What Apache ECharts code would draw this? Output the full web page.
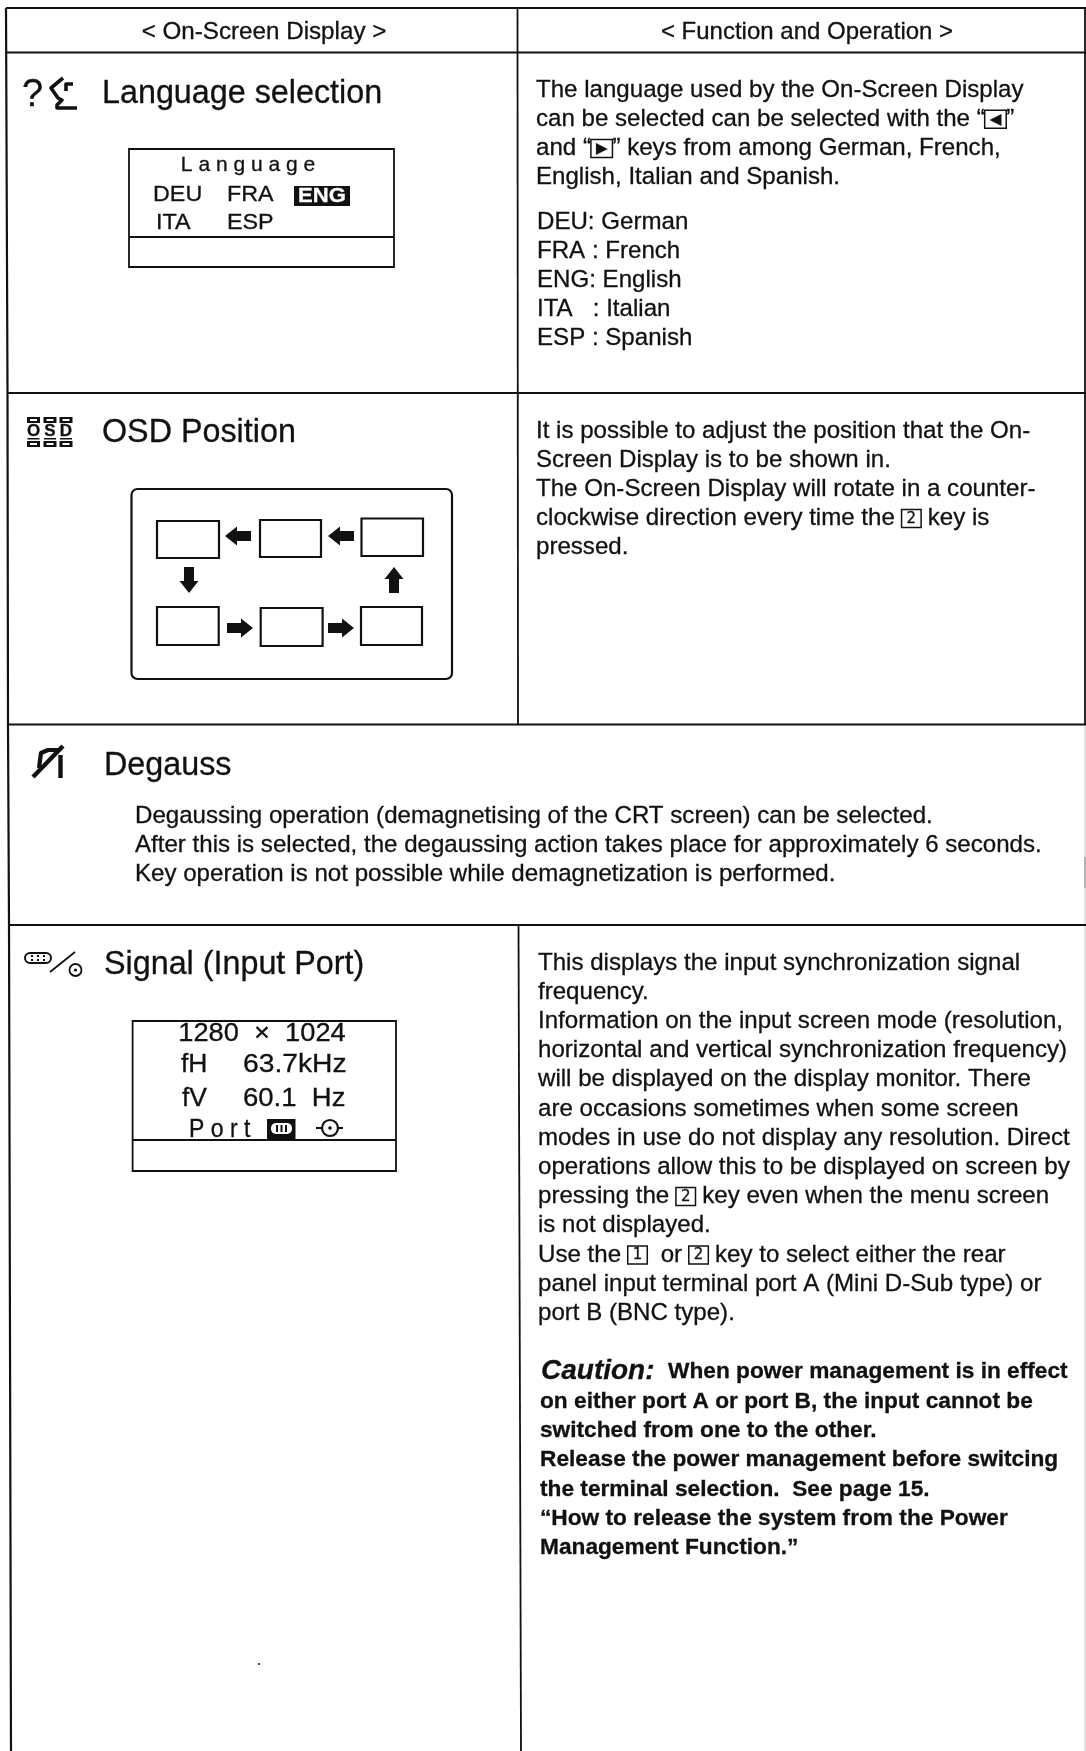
<!DOCTYPE html>
<html>
<head>
<meta charset="utf-8">
<title>On-Screen Display</title>
<style>
  html, body { margin: 0; padding: 0; background: #fff; }
  #main { width: 1086px; height: 1751px; }
</style>
<script src="https://cdn.jsdelivr.net/npm/echarts@6/dist/echarts.min.js"></script>
</head>
<body>
<div id="main"></div>
<script>
const columnHeaders = ['< On-Screen Display >', '< Function and Operation >']
const sectionTitles = ['Language selection', 'OSD Position', 'Degauss', 'Signal (Input Port)']
const languageIntro = [
  'The language used by the On-Screen Display',
  'can be selected can be selected with the “{key|◀}”',
  'and “{key|▶}” keys from among German, French,',
  'English, Italian and Spanish.'
]
const languageCodes = ['DEU: German', 'FRA : French', 'ENG: English', 'ITA   : Italian', 'ESP : Spanish']
const osdText = [
  'It is possible to adjust the position that the On-',
  'Screen Display is to be shown in.',
  'The On-Screen Display will rotate in a counter-',
  'clockwise direction every time the {key|2} key is',
  'pressed.'
]
const degaussText = [
  'Degaussing operation (demagnetising of the CRT screen) can be selected.',
  'After this is selected, the degaussing action takes place for approximately 6 seconds.',
  'Key operation is not possible while demagnetization is performed.'
]
const signalText = [
  'This displays the input synchronization signal',
  'frequency.',
  'Information on the input screen mode (resolution,',
  'horizontal and vertical synchronization frequency)',
  'will be displayed on the display monitor. There',
  'are occasions sometimes when some screen',
  'modes in use do not display any resolution. Direct',
  'operations allow this to be displayed on screen by',
  'pressing the {key|2} key even when the menu screen',
  'is not displayed.',
  'Use the {key|1}  or {key|2} key to select either the rear',
  'panel input terminal port A (Mini D-Sub type) or',
  'port B (BNC type).'
]
const cautionWord = 'Caution:'
const cautionText = [
  'When power management is in effect',
  'on either port A or port B, the input cannot be',
  'switched from one to the other.',
  'Release the power management before switcing',
  'the terminal selection.  See page 15.',
  '“How to release the system from the Power',
  'Management Function.”'
]
const languageMenuTitle = 'L a n g u a g e'
const languageMenuCodes = ['DEU', 'FRA', 'ENG', 'ITA', 'ESP']
const signalMenu = ['1280  ×  1024', 'fH', '63.7kHz', 'fV', '60.1  Hz', 'P o r t']
const osdLetters = ['O', 'S', 'D']

const INK = '#111'
const FONT = '"Liberation Sans", Arial, sans-serif'
const BODY_LINE = 29.2
const BODY_SIZE = 24.1

const graphics = []

function text(x, y, str, o) {
  o = o || {}
  graphics.push({
    type: 'text',
    x: x,
    y: y,
    scaleX: o.sx || 1,
    z: o.z || 7,
    style: {
      x: 0,
      y: 0,
      text: str,
      fontFamily: FONT,
      fontSize: o.size || BODY_SIZE,
      fontWeight: o.weight || 'normal',
      fontStyle: o.style || 'normal',
      fill: o.color || INK,
      stroke: o.color || INK,
      lineWidth: 0.3,
      align: o.align || 'left',
      verticalAlign: 'middle',
      rich: {
        key: {
          fontFamily: '"DejaVu Sans", sans-serif',
          fontSize: 15,
          fill: INK,
          borderColor: INK,
          borderWidth: 1.5,
          padding: [2, 5, 1, 5],
          verticalAlign: 'middle'
        }
      }
    }
  })
}

function line(points, width, color) {
  graphics.push({
    type: 'polyline',
    z: 3,
    shape: { points: points },
    style: { stroke: color || INK, lineWidth: width || 1.8, fill: null, lineJoin: 'round' }
  })
}

function box(x0, y0, x1, y1, width, r) {
  graphics.push({
    type: 'rect',
    z: 3,
    shape: { x: x0, y: y0, width: x1 - x0, height: y1 - y0, r: r || 0 },
    style: { stroke: INK, lineWidth: width || 1.8, fill: null }
  })
}

function solid(x0, y0, x1, y1, color, z, r) {
  graphics.push({
    type: 'rect',
    z: z || 4,
    shape: { x: x0, y: y0, width: x1 - x0, height: y1 - y0, r: r || 0 },
    style: { fill: color || INK }
  })
}

function blockArrow(cx, cy, dir) {
  const pts = [[-13, -5], [1, -5], [1, -9.5], [13, 0], [1, 9.5], [1, 5], [-13, 5]]
  const rot = { right: [1, 0], left: [-1, 0], down: [0, 1], up: [0, -1] }[dir]
  graphics.push({
    type: 'polygon',
    z: 4,
    shape: { points: pts.map(p => [cx + p[0] * rot[0] - p[1] * rot[1], cy + p[0] * rot[1] + p[1] * rot[0]]) },
    style: { fill: INK }
  })
}

function circle(cx, cy, r, width, fill) {
  graphics.push({
    type: 'circle',
    z: 4,
    shape: { cx: cx, cy: cy, r: r },
    style: width ? { stroke: INK, lineWidth: width, fill: '#fff' } : { fill: fill || INK }
  })
}

function paragraph(x, y, lines, o) {
  lines.forEach((s, i) => text(x, y + i * BODY_LINE, s, o))
}

// frame
line([[6, 8], [1086, 8]], 2)
line([[6, 8], [7.5, 393], [8, 725], [9, 925], [11, 1751]], 2.2)
line([[517.5, 8], [518, 725]], 1.8)
line([[518.5, 925], [521, 1751]], 1.8)
line([[1085, 8], [1085, 725]], 1.8)
line([[1085, 857], [1085, 888]], 1.5)
line([[1085, 725], [1085, 1751]], 1.5, '#d8d8d8')
line([[6, 52.5], [1086, 52.5]], 2)
line([[7, 393], [1086, 393]], 2)
line([[8, 724.5], [1086, 724.5]], 2)
line([[9, 925], [1086, 925]], 2)

// column headers
text(264, 32, columnHeaders[0], { size: 24.2, align: 'center' })
text(807, 32, columnHeaders[1], { size: 24, align: 'center' })

// section titles
text(102, 94, sectionTitles[0], { size: 32.3 })
text(102, 433, sectionTitles[1], { size: 32.3 })
text(104, 766, sectionTitles[2], { size: 32.3 })
text(104, 965, sectionTitles[3], { size: 32.3 })

// right column text
paragraph(536, 90, languageIntro)
paragraph(537, 222, languageCodes)
paragraph(536, 431, osdText)
paragraph(135, 816, degaussText)
paragraph(538, 963, signalText)
text(541, 1371, cautionWord, { size: 28, weight: 'bold', style: 'italic' })
text(668, 1372, cautionText[0], { size: 22.7, weight: 'bold' })
cautionText.slice(1).forEach((s, i) => text(540, 1402 + i * 29.1, s, { size: 22.7, weight: 'bold' }))

// language icon
text(22, 96, '?', { size: 38 })
line([[63, 78], [51, 88], [58, 98], [62, 100], [57, 105], [57, 108], [77, 108]], 3.6)
line([[73, 84], [66, 84], [66, 91]], 3.6)

// language menu
box(129, 149, 394, 267, 1.8)
line([[129, 237], [394, 237]], 1.8)
text(248, 165, languageMenuTitle, { size: 21, align: 'center' })
text(153, 195, languageMenuCodes[0], { size: 22, sx: 1.06 })
text(227, 195, languageMenuCodes[1], { size: 22, sx: 1.06 })
solid(294, 186, 350, 206)
text(322, 196, languageMenuCodes[2], { size: 21, color: '#fff', align: 'center', weight: 'bold', sx: 1.05 })
text(156, 223, languageMenuCodes[3], { size: 22, sx: 1.06 })
text(227, 223, languageMenuCodes[4], { size: 22, sx: 1.06 })

// OSD icon
;[33.5, 50, 66].forEach((cx, i) => {
  solid(cx - 6.5, 417, cx + 6.5, 423)
  solid(cx - 3.5, 419, cx + 3.5, 421, '#fff', 5)
  text(cx, 431.5, osdLetters[i], { size: 17, weight: 'bold', align: 'center' })
  solid(cx - 6, 438, cx + 6, 439.5)
  solid(cx - 6.5, 441, cx + 6.5, 447)
  solid(cx - 3.5, 443, cx + 3.5, 445, '#fff', 5)
})

// OSD position panel
box(131.5, 489, 452, 679, 2.2, 6)
box(157, 521, 219, 558, 2.2)
box(260, 520, 321, 557, 2.2)
box(361.5, 518.5, 423, 556, 2.2)
box(157, 607, 218.7, 645, 2.2)
box(260.7, 608, 322.6, 646, 2.2)
box(361, 607, 422, 645, 2.2)
blockArrow(238, 536, 'left')
blockArrow(341, 536, 'left')
blockArrow(189, 580, 'down')
blockArrow(394, 580, 'up')
blockArrow(240, 628, 'right')
blockArrow(341, 628, 'right')

// degauss icon
line([[33, 777], [63, 746]], 4.4)
line([[60.5, 755], [60.5, 778]], 4.4)
line([[39, 768], [41, 753], [48, 750], [60, 750]], 4.2)

// signal icon
box(25, 953, 51, 963, 2, 5)
;[32, 38, 44].forEach(x => {
  solid(x - 1, 955, x + 1, 957)
  solid(x - 1, 959, x + 1, 961)
})
line([[50, 972], [75, 952]], 1.8)
circle(75.5, 970, 6, 1.8)
circle(75.5, 970, 1.6)

// signal menu
box(132.6, 1021, 396, 1171, 1.8)
line([[132.6, 1140], [396, 1140]], 1.8)
text(262, 1034, signalMenu[0], { size: 25, align: 'center', sx: 1.09 })
text(181, 1065, signalMenu[1], { size: 25, sx: 1.06 })
text(243, 1065, signalMenu[2], { size: 25, sx: 1.13 })
text(182, 1099, signalMenu[3], { size: 25, sx: 1.06 })
text(243, 1099, signalMenu[4], { size: 25, sx: 1.1 })
text(189, 1130, signalMenu[5], { size: 25, sx: 0.92 })
solid(267, 1119, 295.5, 1139)
solid(271, 1123, 292, 1134, '#fff', 5, 5)
;[277, 281.5, 286].forEach(x => solid(x - 1, 1125, x + 1, 1132, INK, 6))
line([[316, 1128], [343, 1128]], 2)
circle(330, 1128, 8, 2.2)
circle(330, 1128, 1.8)

// speck in the scan
circle(259, 1664, 1)

const chart = echarts.init(document.getElementById('main'), null, { renderer: 'canvas' })
chart.setOption({
  backgroundColor: '#fff',
  animation: false,
  graphic: { elements: graphics }
})
</script>
</body>
</html>
